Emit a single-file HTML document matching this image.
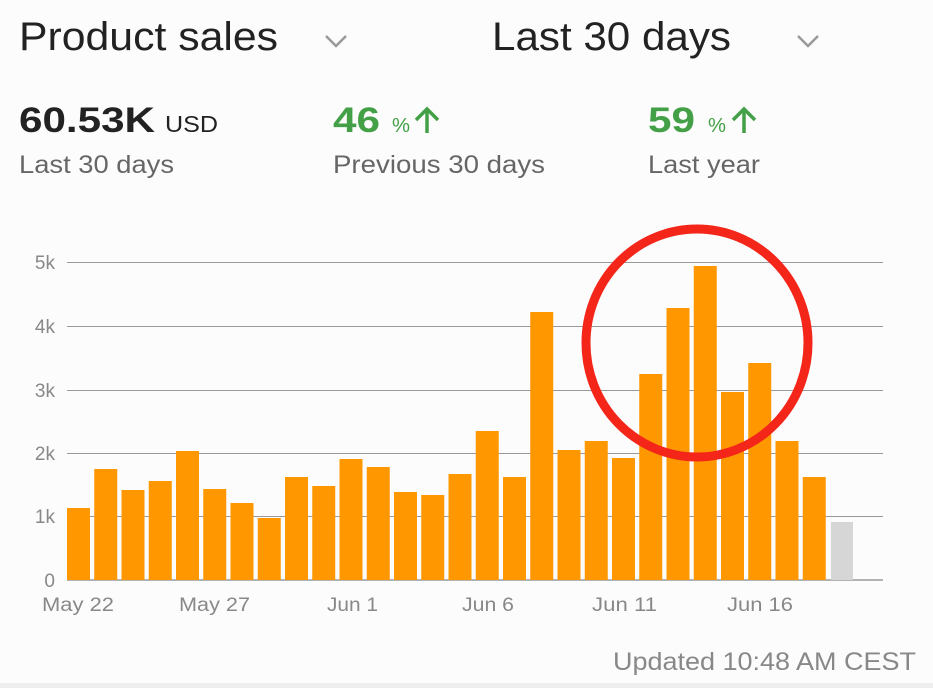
<!DOCTYPE html>
<html><head><meta charset="utf-8"><style>
html,body{margin:0;padding:0;background:#fcfcfc;width:933px;height:688px;overflow:hidden}
svg{display:block}
text{font-family:"Liberation Sans",sans-serif}
</style></head><body>
<svg width="933" height="688" viewBox="0 0 933 688">
<rect x="0" y="0" width="933" height="688" fill="#fcfcfc"/>
<rect x="0" y="683" width="933" height="5" fill="#eeeeee"/>
<text x="19" y="50" font-size="40" fill="#222" textLength="259" lengthAdjust="spacingAndGlyphs">Product sales</text>
<polyline points="326,36 336,46 346,36" fill="none" stroke="#999" stroke-width="2.5"/>
<text x="492" y="50" font-size="40" fill="#222" textLength="239" lengthAdjust="spacingAndGlyphs">Last 30 days</text>
<polyline points="798,36 808,46 818,36" fill="none" stroke="#999" stroke-width="2.5"/>
<text x="19" y="132" font-size="35" font-weight="bold" fill="#222" textLength="136" lengthAdjust="spacingAndGlyphs">60.53K</text>
<text x="165" y="132" font-size="23" fill="#222" textLength="53" lengthAdjust="spacingAndGlyphs">USD</text>
<text x="19" y="173" font-size="25" fill="#666" textLength="155" lengthAdjust="spacingAndGlyphs">Last 30 days</text>
<text x="333" y="132" font-size="35" font-weight="bold" fill="#43a047" textLength="47" lengthAdjust="spacingAndGlyphs">46</text>
<text x="392" y="132" font-size="20" fill="#43a047" textLength="18" lengthAdjust="spacingAndGlyphs">%</text>
<g stroke="#43a047" stroke-width="3.5" fill="none"><line x1="427" y1="109" x2="427" y2="133"/><polyline points="416,120 427,109 438,120"/></g>
<text x="333" y="173" font-size="25" fill="#666" textLength="212" lengthAdjust="spacingAndGlyphs">Previous 30 days</text>
<text x="648" y="132" font-size="35" font-weight="bold" fill="#43a047" textLength="47" lengthAdjust="spacingAndGlyphs">59</text>
<text x="708" y="132" font-size="20" fill="#43a047" textLength="18" lengthAdjust="spacingAndGlyphs">%</text>
<g stroke="#43a047" stroke-width="3.5" fill="none"><line x1="744" y1="109" x2="744" y2="133"/><polyline points="733,120 744,109 755,120"/></g>
<text x="648" y="173" font-size="25" fill="#666" textLength="112" lengthAdjust="spacingAndGlyphs">Last year</text>
<g stroke="#999" stroke-width="1">
<line x1="67" y1="262.5" x2="883" y2="262.5"/>
<line x1="67" y1="326.5" x2="883" y2="326.5"/>
<line x1="67" y1="390.5" x2="883" y2="390.5"/>
<line x1="67" y1="453.5" x2="883" y2="453.5"/>
<line x1="67" y1="516.5" x2="883" y2="516.5"/>
<line x1="67" y1="580" x2="883" y2="580" stroke-width="1.5"/>
</g>
<g font-size="19" fill="#888" text-anchor="end">
<text x="55" y="269">5k</text><text x="55" y="333">4k</text><text x="55" y="397">3k</text>
<text x="55" y="460">2k</text><text x="55" y="523">1k</text><text x="55" y="587">0</text>
</g>
<g fill="#ff9800">
<rect x="67" y="508" width="23" height="72"/>
<rect x="94.25" y="469" width="23" height="111"/>
<rect x="121.5" y="490" width="23" height="90"/>
<rect x="148.75" y="481" width="23" height="99"/>
<rect x="176" y="451" width="23" height="129"/>
<rect x="203.25" y="489" width="23" height="91"/>
<rect x="230.5" y="503" width="23" height="77"/>
<rect x="257.75" y="518" width="23" height="62"/>
<rect x="285" y="477" width="23" height="103"/>
<rect x="312.25" y="486" width="23" height="94"/>
<rect x="339.5" y="459" width="23" height="121"/>
<rect x="366.75" y="467" width="23" height="113"/>
<rect x="394" y="492" width="23" height="88"/>
<rect x="421.25" y="495" width="23" height="85"/>
<rect x="448.5" y="474" width="23" height="106"/>
<rect x="475.75" y="431" width="23" height="149"/>
<rect x="503" y="477" width="23" height="103"/>
<rect x="530.25" y="312" width="23" height="268"/>
<rect x="557.5" y="450" width="23" height="130"/>
<rect x="584.75" y="441" width="23" height="139"/>
<rect x="612" y="458" width="23" height="122"/>
<rect x="639.25" y="374" width="23" height="206"/>
<rect x="666.5" y="308" width="23" height="272"/>
<rect x="693.75" y="266" width="23" height="314"/>
<rect x="721" y="392" width="23" height="188"/>
<rect x="748.25" y="363" width="23" height="217"/>
<rect x="775.5" y="441" width="23" height="139"/>
<rect x="802.75" y="477" width="23" height="103"/>
</g>
<rect x="831" y="522" width="22" height="58" fill="#d6d6d6"/>
<g font-size="19" fill="#888">
<text x="42" y="611" textLength="72" lengthAdjust="spacingAndGlyphs">May 22</text>
<text x="179" y="611" textLength="71" lengthAdjust="spacingAndGlyphs">May 27</text>
<text x="327" y="611" textLength="51" lengthAdjust="spacingAndGlyphs">Jun 1</text>
<text x="462" y="611" textLength="52" lengthAdjust="spacingAndGlyphs">Jun 6</text>
<text x="592" y="611" textLength="65" lengthAdjust="spacingAndGlyphs">Jun 11</text>
<text x="727" y="611" textLength="66" lengthAdjust="spacingAndGlyphs">Jun 16</text>
</g>
<text x="613" y="670" font-size="25" fill="#888" textLength="303" lengthAdjust="spacingAndGlyphs">Updated 10:48 AM CEST</text>
<ellipse cx="697" cy="343" rx="111" ry="114" fill="none" stroke="#f4261a" stroke-width="9"/>
</svg>
</body></html>
